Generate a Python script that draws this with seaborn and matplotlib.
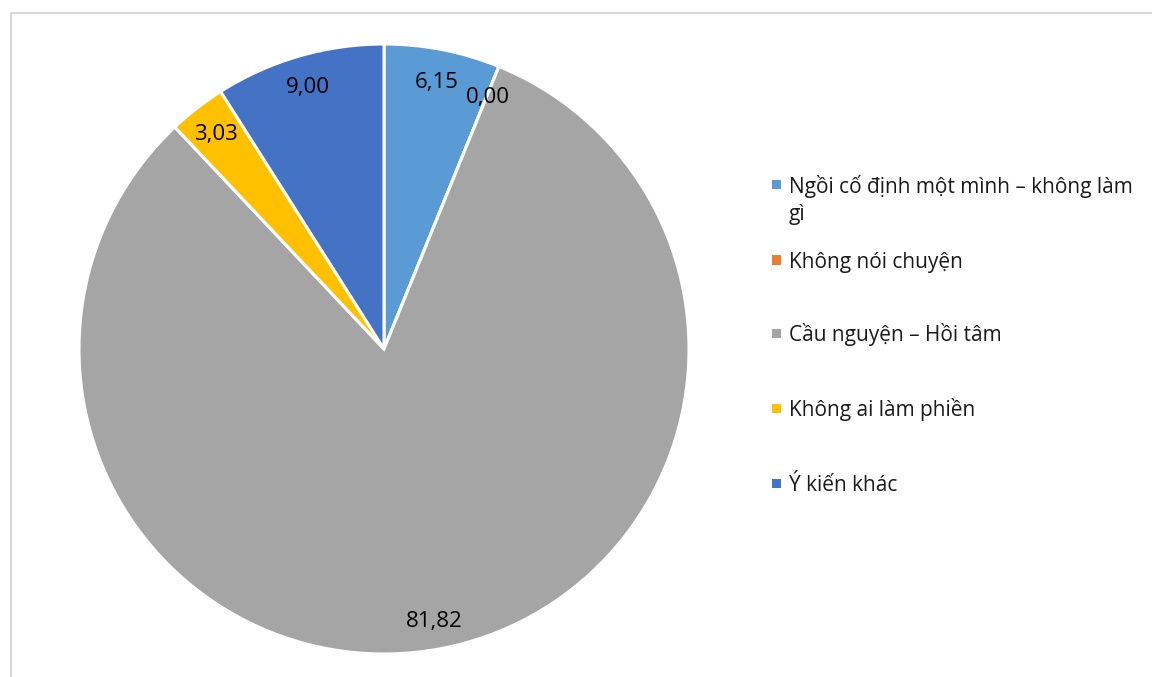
import matplotlib
matplotlib.use("Agg")
import matplotlib.pyplot as plt
import seaborn as sns
import numpy as np
from matplotlib.patches import Rectangle
from matplotlib.lines import Line2D

categories = [
    "Ngồi cố định một mình – không làm\ngì",
    "Không nói chuyện",
    "Cầu nguyện – Hồi tâm",
    "Không ai làm phiền",
    "Ý kiến khác",
]
values = [6.15, 0.00, 81.82, 3.03, 9.00]
colors = ["#5B9BD5", "#ED7D31", "#A5A5A5", "#FFC000", "#4472C4"]

sns.set_theme(style="white")
plt.rcParams["font.family"] = ["Open Sans", "DejaVu Sans"]

W, H = 1152, 677
fig = plt.figure(figsize=(W / 100, H / 100), dpi=100)
fig.patch.set_facecolor("white")

# chart-area border (top & left visible)
fig.add_artist(Line2D([11 / W, 11 / W], [0, 1 - 13 / H], transform=fig.transFigure,
                      color="#D9D9D9", lw=1.5))
fig.add_artist(Line2D([11 / W, 1], [1 - 13 / H, 1 - 13 / H], transform=fig.transFigure,
                      color="#D9D9D9", lw=1.5))

cx, cy, R = 384, 349, 305
ax = fig.add_axes([(cx - R) / W, (H - cy - R) / H, 2 * R / W, 2 * R / H])
palette = sns.color_palette(colors)

def fmt(p):
    return f"{p:.2f}".replace(".", ",")

wedges = ax.pie(
    values, colors=palette, startangle=90, counterclock=False, radius=1,
    wedgeprops=dict(edgecolor="white", linewidth=2.2),
)[0]
for w, v in zip(wedges, values):
    mid = np.deg2rad((w.theta1 + w.theta2) / 2)
    ax.text(0.9 * np.cos(mid), 0.9 * np.sin(mid), fmt(v), ha="center",
            va="center_baseline", fontsize=16, color="black")
ax.set_xlim(-1, 1)
ax.set_ylim(-1, 1)
ax.set_aspect("equal")
ax.axis("off")

# legend (Excel-style, marker aligned with first line)
leg_y = [185, 260, 333, 408, 483]
line_h = 27
for lab, col, y in zip(categories, colors, leg_y):
    fig.add_artist(Rectangle((772 / W, 1 - (y + 4.5) / H), 9 / W, 9 / H,
                             transform=fig.transFigure, facecolor=col, edgecolor="none"))
    for k, line in enumerate(lab.split("\n")):
        fig.text(789 / W, 1 - (y + 8 + k * line_h) / H, line, ha="left",
                 va="baseline", fontsize=15, color="#1a1a1a")

fig.savefig("out.png", dpi=100, facecolor="white")
